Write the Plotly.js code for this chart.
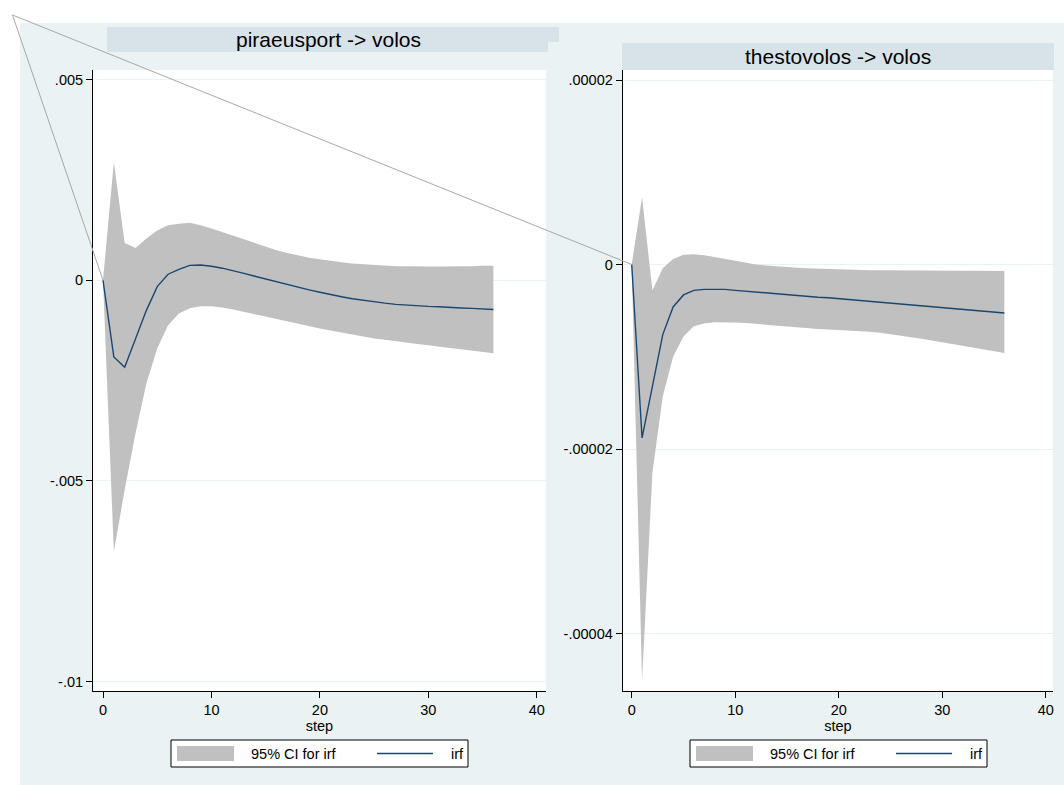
<!DOCTYPE html>
<html><head><meta charset="utf-8">
<script src="https://cdn.plot.ly/plotly-3.0.1.min.js"></script>
<style>html,body{margin:0;padding:0;background:#fff}#chart{width:1064px;height:785px}</style>
</head><body><div id="chart"></div>
<script>
// ---------------- data ----------------
const steps = [0,1,2,3,4,5,6,7,8,9,10,11,12,13,14,15,16,17,18,19,20,21,22,23,24,25,26,27,28,29,30,31,32,33,34,35,36];

const piraeusIrf = [0,-0.00191,-0.00217,-0.00146,-0.00075,-0.00016,0.00015,0.00027,0.00037,0.00038,0.00035,0.00030,0.00024,0.00017,0.00010,0.00003,-0.00004,-0.00011,-0.00018,-0.00024,-0.00030,-0.00036,-0.00041,-0.00046,-0.00050,-0.00054,-0.00057,-0.00060,-0.00062,-0.00064,-0.00065,-0.00066,-0.00068,-0.00069,-0.00070,-0.00072,-0.00073];
const piraeusLower = [0,-0.00676,-0.00522,-0.00381,-0.00257,-0.00170,-0.00112,-0.00083,-0.00070,-0.00065,-0.00065,-0.00068,-0.00073,-0.00079,-0.00085,-0.00091,-0.00097,-0.00102,-0.00108,-0.00114,-0.00120,-0.00125,-0.00130,-0.00135,-0.00140,-0.00145,-0.00148,-0.00152,-0.00156,-0.00159,-0.00162,-0.00166,-0.00169,-0.00172,-0.00175,-0.00179,-0.00182];
const piraeusUpper = [0,0.00294,0.00093,0.00080,0.00104,0.00124,0.00137,0.00141,0.00143,0.00137,0.00129,0.00120,0.00111,0.00101,0.00092,0.00083,0.00075,0.00068,0.00062,0.00056,0.00052,0.00048,0.00045,0.00042,0.00040,0.00038,0.00036,0.00035,0.00035,0.00034,0.00034,0.00034,0.00034,0.00035,0.00035,0.00036,0.00036];

const thestoIrf = [0,-1.88e-5,-1.32e-5,-7.6e-6,-4.6e-6,-3.3e-6,-2.8e-6,-2.7e-6,-2.7e-6,-2.7e-6,-2.8e-6,-2.9e-6,-3.0e-6,-3.1e-6,-3.2e-6,-3.3e-6,-3.4e-6,-3.5e-6,-3.55e-6,-3.6e-6,-3.7e-6,-3.8e-6,-3.85e-6,-3.95e-6,-4.05e-6,-4.15e-6,-4.25e-6,-4.35e-6,-4.45e-6,-4.55e-6,-4.65e-6,-4.75e-6,-4.85e-6,-4.95e-6,-5.05e-6,-5.15e-6,-5.25e-6];
const thestoLower = [0,-4.51e-5,-2.26e-5,-1.43e-5,-1.0e-5,-7.8e-6,-6.7e-6,-6.4e-6,-6.25e-6,-6.25e-6,-6.3e-6,-6.35e-6,-6.45e-6,-6.55e-6,-6.65e-6,-6.75e-6,-6.85e-6,-6.95e-6,-7.0e-6,-7.05e-6,-7.1e-6,-7.15e-6,-7.2e-6,-7.3e-6,-7.4e-6,-7.55e-6,-7.7e-6,-7.85e-6,-8.05e-6,-8.25e-6,-8.45e-6,-8.65e-6,-8.85e-6,-9.05e-6,-9.25e-6,-9.45e-6,-9.6e-6];
const thestoUpper = [0,7.3e-6,-2.8e-6,-4e-7,6e-7,1.05e-6,1.1e-6,1.0e-6,8e-7,6e-7,4e-7,2e-7,0,-1e-7,-2e-7,-3e-7,-3.5e-7,-4e-7,-4.5e-7,-5e-7,-5.5e-7,-5.8e-7,-6e-7,-6.2e-7,-6.3e-7,-6.4e-7,-6.5e-7,-6.5e-7,-6.6e-7,-6.6e-7,-6.7e-7,-6.7e-7,-6.8e-7,-6.8e-7,-6.9e-7,-6.9e-7,-7e-7];

const panelTitles = ["piraeusport -> volos", "thestovolos -> volos"];
const xTitle = "step";
const xTickVals = [0, 10, 20, 30, 40];
const leftYTickVals = [0.005, 0, -0.005, -0.01];
const leftYTickText = [".005", "0", "-.005", "-.01"];
const rightYTickVals = [0.00002, 0, -0.00002, -0.00004];
const rightYTickText = [".00002", "0", "-.00002", "-.00004"];
const legendLabels = ["95% CI for irf", "irf"];

// ---------------- styling / geometry ----------------
const W = 1064, H = 785;
const px = v => v / W;
const py = v => 1 - v / H;
const FONT = "Liberation Sans, Arial, Helvetica, sans-serif";
const BG = "#EAF2F3", STRIP = "#D7E3E9", BAND = "#C0C0C0", LINE = "#1A476F";

const panels = [
  {xd:[px(93), px(546)], yd:[py(691), py(70)], xr:[-0.922, 40.85], yr:[-0.010232, 0.005237],
   lower:piraeusLower, upper:piraeusUpper, irf:piraeusIrf, tv:leftYTickVals, tt:leftYTickText,
   strip:[[107,27,548,52],[548,27,559,42]], titleX:328, titleY:40, legendLeft:171},
  {xd:[px(622.7), px(1053)], yd:[py(690.7), py(70)], xr:[-0.87, 40.7], yr:[-4.62e-5, 2.1084e-5],
   lower:thestoLower, upper:thestoUpper, irf:thestoIrf, tv:rightYTickVals, tt:rightYTickText,
   strip:[[622,43,1054,70]], titleX:838, titleY:57, legendLeft:690}
];

const traces = [];
const layout = {
  width: W, height: H,
  margin: {l:0, r:0, t:0, b:0},
  paper_bgcolor: BG, plot_bgcolor: "#FFFFFF",
  showlegend: false,
  font: {family: FONT, size: 14.5, color: "#000"},
  shapes: [], annotations: []
};

// white outer margins
layout.shapes.push({type:"rect", xref:"paper", yref:"paper", x0:0, x1:px(20), y0:0, y1:1, fillcolor:"#FFFFFF", line:{width:0}, layer:"below"});
layout.shapes.push({type:"rect", xref:"paper", yref:"paper", x0:0, x1:1, y0:py(23), y1:1, fillcolor:"#FFFFFF", line:{width:0}, layer:"below"});

panels.forEach((p, i) => {
  const n = i === 0 ? "" : String(i + 1);
  const xa = "x" + n, ya = "y" + n;
  traces.push({x:steps, y:p.lower, xaxis:xa, yaxis:ya, mode:"lines", line:{width:0, color:"rgba(0,0,0,0)"}, hoverinfo:"skip"});
  traces.push({x:steps, y:p.upper, xaxis:xa, yaxis:ya, mode:"lines", fill:"tonexty", fillcolor:BAND, line:{width:0, color:"rgba(0,0,0,0)"}, name:legendLabels[0]});
  traces.push({x:steps, y:p.irf, xaxis:xa, yaxis:ya, mode:"lines", line:{width:1.4, color:LINE}, name:legendLabels[1]});

  layout["xaxis" + n] = {
    domain:p.xd, range:p.xr, anchor:ya, showline:true, linecolor:"#000", linewidth:1,
    ticks:"outside", ticklen:6, tickcolor:"#000", tickvals:xTickVals, showgrid:false, zeroline:false,
    tickfont:{size:14.5}, title:{text:xTitle, font:{size:14.5}, standoff:0}
  };
  layout["yaxis" + n] = {
    domain:p.yd, range:p.yr, anchor:xa, showline:true, linecolor:"#000", linewidth:1,
    ticks:"outside", ticklen:6, tickcolor:"#000", tickvals:p.tv, ticktext:p.tt,
    showgrid:true, gridcolor:BG, gridwidth:1, zeroline:false, tickfont:{size:14.5}
  };

  // title strips
  p.strip.forEach(s => layout.shapes.push({type:"rect", xref:"paper", yref:"paper",
    x0:px(s[0]), x1:px(s[2]), y0:py(s[3]), y1:py(s[1]), fillcolor:STRIP, line:{width:0}, layer:"below"}));
  layout.annotations.push({text:panelTitles[i], xref:"paper", yref:"paper", x:px(p.titleX), y:py(p.titleY),
    xanchor:"center", yanchor:"middle", showarrow:false, font:{size:21, color:"#000"}});

  // legend box
  const L = p.legendLeft;
  layout.shapes.push({type:"rect", xref:"paper", yref:"paper", x0:px(L), x1:px(L+297), y0:py(767), y1:py(740),
    fillcolor:"#FFFFFF", line:{width:1, color:"#000"}, layer:"above"});
  layout.shapes.push({type:"rect", xref:"paper", yref:"paper", x0:px(L+6), x1:px(L+63), y0:py(761), y1:py(746),
    fillcolor:BAND, line:{width:0}, layer:"above"});
  layout.shapes.push({type:"line", xref:"paper", yref:"paper", x0:px(L+206), x1:px(L+262), y0:py(753.5), y1:py(753.5),
    line:{width:1.4, color:LINE}, layer:"above"});
  layout.annotations.push({text:legendLabels[0], xref:"paper", yref:"paper", x:px(L+78), y:py(753.5),
    xanchor:"left", yanchor:"middle", showarrow:false, font:{size:14.5}});
  layout.annotations.push({text:legendLabels[1], xref:"paper", yref:"paper", x:px(L+278), y:py(753.5),
    xanchor:"left", yanchor:"middle", showarrow:false, font:{size:14.5}});

  // connector line from the top-left corner to the origin of each panel
  const ox = p.xd[0] + (0 - p.xr[0]) / (p.xr[1] - p.xr[0]) * (p.xd[1] - p.xd[0]);
  const oy = p.yd[0] + (0 - p.yr[0]) / (p.yr[1] - p.yr[0]) * (p.yd[1] - p.yd[0]);
  layout.shapes.push({type:"line", xref:"paper", yref:"paper", x0:px(12.5), y0:py(15), x1:ox, y1:oy,
    line:{width:1, color:"#A8A8A8"}, layer:"above"});
});

Plotly.newPlot("chart", traces, layout, {displayModeBar:false, staticPlot:true});
</script>
</body></html>
